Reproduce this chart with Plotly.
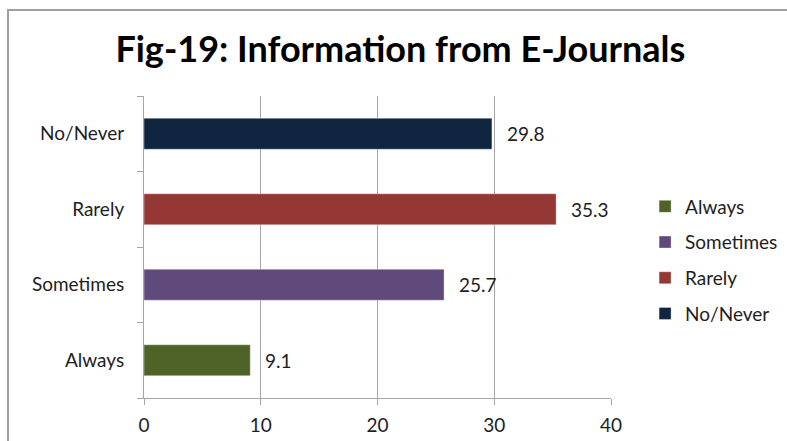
import plotly.graph_objects as go

categories = ["Always", "Sometimes", "Rarely", "No/Never"]
values = [9.1, 25.7, 35.3, 29.8]
colors = ["#4F6228", "#604A7B", "#953735", "#10253F"]
x_ticks = [0, 10, 20, 30, 40]

FONT = "Lato"
TXT = "#1E1E1E"
AXIS = "#A6A6A6"

fig = go.Figure()
for i, (cat, val, col) in enumerate(zip(categories, values, colors)):
    fig.add_trace(go.Bar(
        y=[cat], x=[val], orientation="h", name=cat,
        marker=dict(color=col, line=dict(color="rgba(255,255,255,0.35)", width=1)),
        width=0.41,
        legendgroup=f"g{i}",
    ))
    # value label to the right of each bar
    fig.add_annotation(x=val, y=cat, text=f"{val:.1f}", showarrow=False,
                       xanchor="left", yanchor="middle", xshift=13,
                       font=dict(family=FONT, size=19, color=TXT))

fig.update_layout(
    width=787, height=441,
    margin=dict(l=144, r=176, t=96, b=43, autoexpand=False),
    paper_bgcolor="white", plot_bgcolor="white",
    barmode="overlay",
    title=dict(text="<b>Fig-19: Information from E-Journals</b>",
               x=0.549, xref="paper", y=0.887, yref="container",
               xanchor="center", yanchor="middle",
               font=dict(family=FONT, size=36, color="#000000")),
    legend=dict(x=1.073, xanchor="left", y=0.697, yanchor="top",
                traceorder="grouped", tracegroupgap=8,
                font=dict(family=FONT, size=19, color=TXT),
                itemwidth=30),
    font=dict(family=FONT, size=19, color=TXT),
)

fig.update_xaxes(
    range=[0, 40], tickvals=x_ticks,
    showgrid=True, gridcolor=AXIS, gridwidth=1,
    showline=True, linecolor=AXIS, linewidth=1,
    ticks="outside", ticklen=6, tickcolor=AXIS,
    zeroline=False, ticklabelstandoff=4,
    tickfont=dict(family=FONT, size=19, color=TXT),
)
fig.update_yaxes(
    categoryorder="array", categoryarray=categories,
    range=[-0.5, 3.5],
    showline=True, linecolor=AXIS, linewidth=1,
    ticks="outside", ticklen=6, tickcolor=AXIS,
    tickson="boundaries", ticklabelstandoff=15,
    showgrid=False,
    tickfont=dict(family=FONT, size=19, color=TXT),
)

# chart frame
fig.add_shape(type="rect", xref="paper", yref="paper",
              x0=-0.2912, x1=1.6, y0=-0.3, y1=1.2848,
              line=dict(color="#A0A0A0", width=2), layer="below")

fig.write_html("out.html")
